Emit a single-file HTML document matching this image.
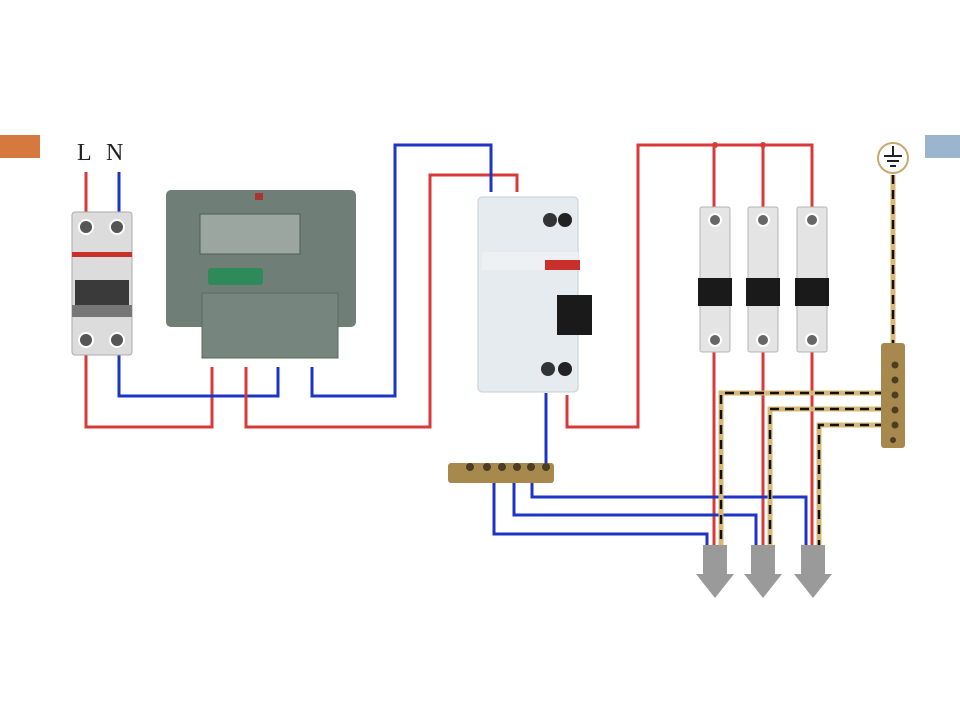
<!DOCTYPE html>
<html><head><meta charset="utf-8"><style>body{margin:0;background:#fff}svg{display:block}</style></head>
<body>
<svg width="960" height="720" viewBox="0 0 960 720" xmlns="http://www.w3.org/2000/svg">
<rect width="960" height="720" fill="#fff"/>
<rect x="0" y="135" width="40" height="23" fill="#d6793f"/>
<rect x="925" y="135" width="35" height="23" fill="#9bb5cf"/>
<text x="77" y="160" font-family="Liberation Serif,serif" font-size="24" fill="#222">L</text>
<text x="106" y="160" font-family="Liberation Serif,serif" font-size="24" fill="#222">N</text>
<g fill="none" stroke-width="3">
<path d="M86 172V212M86 355V427H212V367" stroke="#d83a3a"/>
<path d="M119 172V212M119 355V396H278V367" stroke="#1d34c6"/>
<path d="M246 367V427H430V175H517V192" stroke="#d83a3a"/>
<path d="M312 367V396H395V145H491V192" stroke="#1d34c6"/>
<path d="M567 395V427H638V145H812V208M714 145V208M763 145V208" stroke="#d83a3a"/>
<path d="M714 352V545M763 352V545M812 352V545" stroke="#d83a3a"/>
<path d="M546 393V466" stroke="#1d34c6"/>
<path d="M494 478V534H707V545M514 478V515H756V545M532 478V497H806V545" stroke="#1d34c6"/>
</g>
<circle cx="715" cy="145" r="3" fill="#d83a3a"/><circle cx="763" cy="145" r="3" fill="#d83a3a"/>
<g fill="none" stroke-width="5" stroke="#d9b877">
<path d="M893 175V345M884 393H721V545M884 409H770V545M884 425H819V545"/>
</g>
<g fill="none" stroke-width="2.5" stroke="#111" stroke-dasharray="9 6">
<path d="M893 175V345M884 393H721V545M884 409H770V545M884 425H819V545"/>
</g>
<circle cx="893" cy="158" r="15" fill="#fff" stroke="#c9a86c" stroke-width="2"/>
<path d="M893 146V156M884 156H902M887 161H899M890 166H896" stroke="#222" stroke-width="2"/>
<!-- main breaker -->
<rect x="72" y="212" width="60" height="143" rx="3" fill="#dcdcdc" stroke="#aaa"/>
<rect x="72" y="252" width="60" height="5" fill="#c9302c"/>
<rect x="75" y="280" width="54" height="35" fill="#3a3a3a"/>
<rect x="72" y="305" width="60" height="12" fill="#777"/>
<circle cx="86" cy="227" r="7" fill="#555" stroke="#fff" stroke-width="2"/><circle cx="117" cy="227" r="7" fill="#555" stroke="#fff" stroke-width="2"/>
<circle cx="86" cy="340" r="7" fill="#555" stroke="#fff" stroke-width="2"/><circle cx="117" cy="340" r="7" fill="#555" stroke="#fff" stroke-width="2"/>
<!-- meter -->
<rect x="166" y="190" width="190" height="137" rx="5" fill="#6f7f78"/>
<rect x="200" y="214" width="100" height="40" fill="#9aa69f" stroke="#4f5c56"/>
<rect x="208" y="268" width="55" height="17" rx="3" fill="#2e8a5a"/>
<rect x="202" y="293" width="136" height="65" fill="#76857e" stroke="#5b6862"/>
<rect x="255" y="193" width="8" height="7" fill="#a33"/>
<!-- RCD -->
<rect x="478" y="197" width="100" height="195" rx="4" fill="#e6ebef" stroke="#c5cdd3"/>
<rect x="482" y="252" width="96" height="18" fill="#eef1f3"/>
<rect x="545" y="260" width="35" height="10" fill="#c9302c"/>
<rect x="557" y="295" width="35" height="40" fill="#1a1a1a"/>
<circle cx="550" cy="220" r="7" fill="#333"/><circle cx="565" cy="220" r="7" fill="#222"/>
<circle cx="548" cy="369" r="7" fill="#333"/><circle cx="565" cy="369" r="7" fill="#222"/>
<!-- breakers -->
<g>
<rect x="700" y="207" width="30" height="145" rx="2" fill="#e4e4e4" stroke="#b5b5b5"/>
<rect x="698" y="278" width="34" height="28" fill="#1a1a1a"/>
<circle cx="715" cy="220" r="6" fill="#666" stroke="#fff" stroke-width="2"/><circle cx="715" cy="340" r="6" fill="#666" stroke="#fff" stroke-width="2"/>
<rect x="748" y="207" width="30" height="145" rx="2" fill="#e4e4e4" stroke="#b5b5b5"/>
<rect x="746" y="278" width="34" height="28" fill="#1a1a1a"/>
<circle cx="763" cy="220" r="6" fill="#666" stroke="#fff" stroke-width="2"/><circle cx="763" cy="340" r="6" fill="#666" stroke="#fff" stroke-width="2"/>
<rect x="797" y="207" width="30" height="145" rx="2" fill="#e4e4e4" stroke="#b5b5b5"/>
<rect x="795" y="278" width="34" height="28" fill="#1a1a1a"/>
<circle cx="812" cy="220" r="6" fill="#666" stroke="#fff" stroke-width="2"/><circle cx="812" cy="340" r="6" fill="#666" stroke="#fff" stroke-width="2"/>
</g>
<!-- earth bar -->
<rect x="881" y="343" width="24" height="105" rx="3" fill="#a8894d"/>
<g fill="#4a3d22"><circle cx="895" cy="365" r="3.5"/><circle cx="895" cy="380" r="3.5"/><circle cx="895" cy="395" r="3.5"/><circle cx="895" cy="410" r="3.5"/><circle cx="895" cy="425" r="3.5"/><circle cx="893" cy="440" r="3"/></g>
<!-- neutral bus -->
<rect x="448" y="463" width="106" height="20" rx="3" fill="#a8894d"/>
<g fill="#4a3d22"><circle cx="470" cy="467" r="4"/><circle cx="487" cy="467" r="4"/><circle cx="502" cy="467" r="4"/><circle cx="517" cy="467" r="4"/><circle cx="531" cy="467" r="4"/><circle cx="546" cy="467" r="4"/></g>
<!-- arrows -->
<g fill="#9a9a9a">
<path d="M703 545H727V574H734L715 598L696 574H703Z"/>
<path d="M751 545H775V574H782L763 598L744 574H751Z"/>
<path d="M801 545H825V574H832L813 598L794 574H801Z"/>
</g>
</svg>
</body></html>
